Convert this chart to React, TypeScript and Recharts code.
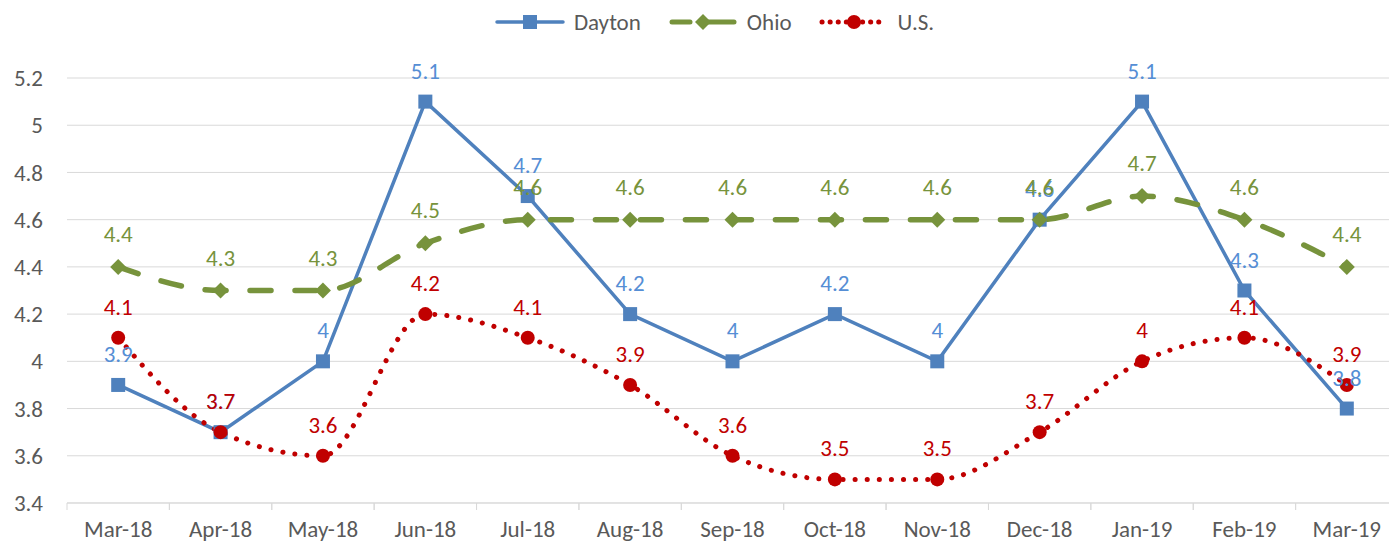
import React from 'react';
import { LineChart, Line, XAxis, YAxis, CartesianGrid, Legend, LabelList } from 'recharts';

const months = ['Mar-18', 'Apr-18', 'May-18', 'Jun-18', 'Jul-18', 'Aug-18', 'Sep-18', 'Oct-18', 'Nov-18', 'Dec-18', 'Jan-19', 'Feb-19', 'Mar-19'];
const dayton = [3.9, 3.7, 4, 5.1, 4.7, 4.2, 4, 4.2, 4, 4.6, 5.1, 4.3, 3.8];
const ohio = [4.4, 4.3, 4.3, 4.5, 4.6, 4.6, 4.6, 4.6, 4.6, 4.6, 4.7, 4.6, 4.4];
const us = [4.1, 3.7, 3.6, 4.2, 4.1, 3.9, 3.6, 3.5, 3.5, 3.7, 4, 4.1, 3.9];
const yTicks = [3.4, 3.6, 3.8, 4, 4.2, 4.4, 4.6, 4.8, 5, 5.2];

const data = months.map((m, i) => ({ month: m, Dayton: dayton[i], Ohio: ohio[i], 'U.S.': us[i] }));

const FONT = 'Carlito, Lato, sans-serif';
const FS = 23;
const BLUE = '#4F81BD';
const GREEN = '#77933C';
const RED = '#C00000';

const SquareDot = (props: any) => {
    const { cx, cy } = props;
    if (cx == null || cy == null) return null;
    return <rect x={cx - 7} y={cy - 7} width={14} height={14} fill={BLUE} />;
};

const DiamondDot = (props: any) => {
    const { cx, cy } = props;
    if (cx == null || cy == null) return null;
    return <path d={`M${cx},${cy - 8} L${cx + 8},${cy} L${cx},${cy + 8} L${cx - 8},${cy} Z`} fill={GREEN} />;
};

const CircleDot = (props: any) => {
    const { cx, cy } = props;
    if (cx == null || cy == null) return null;
    return <circle cx={cx} cy={cy} r={7} fill={RED} />;
};

// category width, used to put the tick marks between months like Excel does
const BAND = 1331 / 13;

const MonthTick = (props: any) => {
    const { x, y, payload } = props;
    return (
        <g>
            <line x1={x - BAND / 2} y1={y} x2={x - BAND / 2} y2={y + 7} stroke="#d9d9d9" />
            <line x1={x + BAND / 2} y1={y} x2={x + BAND / 2} y2={y + 7} stroke="#d9d9d9" />
            <text x={x} y={y + 34} textAnchor="middle" fill="#595959" fontSize={FS} fontFamily={FONT}>{payload.value}</text>
        </g>
    );
};

const legendItems = [
    { name: 'Dayton', color: BLUE },
    { name: 'Ohio', color: GREEN },
    { name: 'U.S.', color: RED },
];

const LegendIcon = ({ name, color }: { name: string; color: string }) => {
    if (name === 'Dayton') {
        return (
            <svg width={70} height={20}>
                <line x1={2} y1={10} x2={68} y2={10} stroke={color} strokeWidth={3.5} strokeLinecap="round" />
                <rect x={28} y={3} width={14} height={14} fill={color} />
            </svg>
        );
    }
    if (name === 'Ohio') {
        return (
            <svg width={70} height={20}>
                <line x1={4} y1={10} x2={22} y2={10} stroke={color} strokeWidth={5} strokeLinecap="round" />
                <line x1={40} y1={10} x2={66} y2={10} stroke={color} strokeWidth={5} strokeLinecap="round" />
                <path d="M35,2 L43,10 L35,18 L27,10 Z" fill={color} />
            </svg>
        );
    }
    return (
        <svg width={70} height={20}>
            <line x1={3} y1={10} x2={67} y2={10} stroke={color} strokeWidth={5} strokeDasharray="0.1 8" strokeLinecap="round" />
            <circle cx={35} cy={10} r={7} fill={color} />
        </svg>
    );
};

const renderLegend = () => (
    <div style={{ display: 'flex', justifyContent: 'center', gap: 27, fontFamily: FONT, fontSize: FS, color: '#595959', marginLeft: 40 }}>
        {legendItems.map(item => (
            <div key={item.name} style={{ display: 'flex', alignItems: 'center', gap: 9 }}>
                <LegendIcon name={item.name} color={item.color} />
                <span>{item.name}</span>
            </div>
        ))}
    </div>
);

const App = () => {
    return (
        <div style={{ position: 'absolute', left: 0, top: 0, width: 1389, height: 542, overflow: 'hidden', background: '#fff' }}>
            <LineChart width={1400} height={542} data={data} margin={{ top: 50, right: 2, bottom: 0, left: 7 }}>
                <CartesianGrid vertical={false} stroke="#d9d9d9" />
                <XAxis dataKey="month" stroke="#d9d9d9" tickLine={false} tickSize={0} tickMargin={0} tick={<MonthTick />} height={39} interval={0}
                    padding={{ left: BAND / 2, right: BAND / 2 }} />
                <YAxis domain={[3.4, 5.2]} ticks={yTicks} axisLine={false} tickLine={false} tickSize={0} tickMargin={24} width={60}
                    tick={{ fill: '#595959', fontSize: FS, fontFamily: FONT }} />
                <Legend verticalAlign="top" height={28} content={renderLegend} wrapperStyle={{ top: 8, left: 0, width: 1389 }} />
                <Line type="linear" dataKey="Dayton" stroke={BLUE} strokeWidth={3.5} dot={<SquareDot />} activeDot={false} isAnimationActive={false}>
                    <LabelList dataKey="Dayton" position="top" offset={23} fill="#558ED5" fontSize={FS} fontFamily={FONT} />
                </Line>
                <Line type="monotone" dataKey="Ohio" stroke={GREEN} strokeWidth={5.5} strokeDasharray="21 24" strokeLinecap="round" dot={<DiamondDot />} activeDot={false} isAnimationActive={false}>
                    <LabelList dataKey="Ohio" position="top" offset={25} fill={GREEN} fontSize={FS} fontFamily={FONT} />
                </Line>
                <Line type="monotone" dataKey="U.S." stroke={RED} strokeWidth={5} strokeDasharray="0.1 12" strokeLinecap="round" dot={<CircleDot />} activeDot={false} isAnimationActive={false}>
                    <LabelList dataKey="U.S." position="top" offset={23} fill={RED} fontSize={FS} fontFamily={FONT} />
                </Line>
            </LineChart>
        </div>
    );
};

export default App;
